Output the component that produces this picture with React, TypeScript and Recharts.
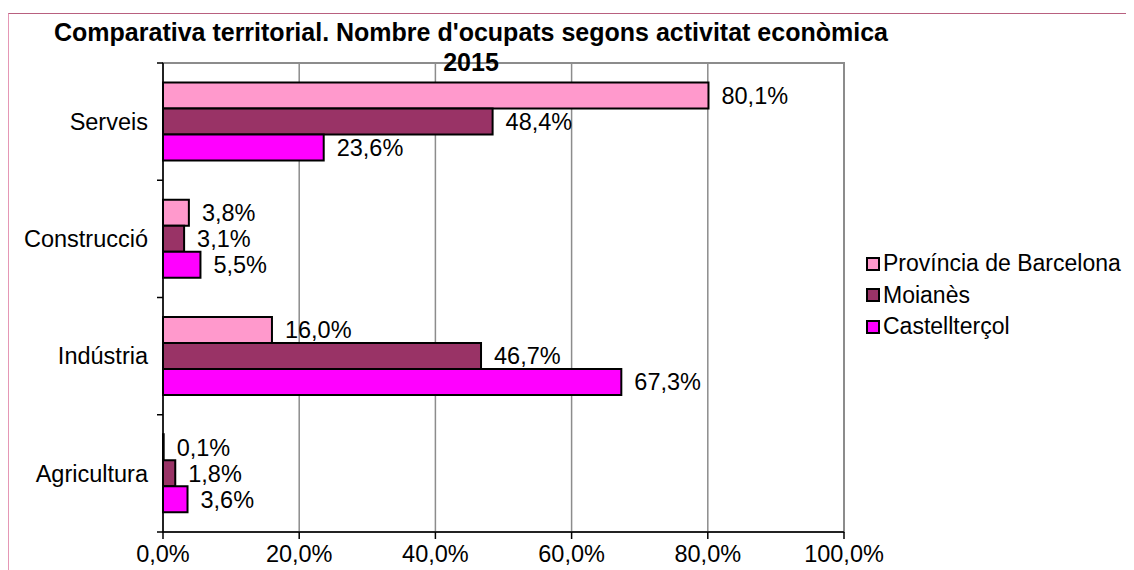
import { Bar, BarChart, CartesianGrid, LabelList, ReferenceArea, XAxis, YAxis } from "recharts";

const categories = ["Serveis", "Construcció", "Indústria", "Agricultura"];
const provincia = [80.1, 3.8, 16.0, 0.1];
const moianes = [48.4, 3.1, 46.7, 1.8];
const castellterçol = [23.6, 5.5, 67.3, 3.6];
const xTicks = [0, 20, 40, 60, 80, 100];

const SERIES = [
  { key: "provincia", name: "Província de Barcelona", color: "#FF99CC" },
  { key: "moianes", name: "Moianès", color: "#993366" },
  { key: "castellterçol", name: "Castellterçol", color: "#FF00FF" },
];

const data = categories.map((cat, i) => ({
  cat,
  provincia: provincia[i],
  moianes: moianes[i],
  castellterçol: castellterçol[i],
}));

const FONT = "'Liberation Sans', Arial, sans-serif";
const FS = 23.5;
const W = 1126;
const H = 562;
const MARGIN = { top: 55, right: 290, left: 0, bottom: 0 };
const Y_WIDTH = 155;
const X_HEIGHT = 38;
const BAND = (H - MARGIN.top - X_HEIGHT) / categories.length;

const pct = (v: number) => `${v.toFixed(1).replace(".", ",")}%`;

const CategoryTick = (props: any) => {
  const { y, payload, index } = props;
  const ax = Y_WIDTH;
  return (
    <g>
      <line x1={ax - 6} x2={ax} y1={y - BAND / 2} y2={y - BAND / 2} stroke="#000" strokeWidth={1.5} />
      {index === categories.length - 1 && (
        <line x1={ax - 6} x2={ax} y1={y + BAND / 2} y2={y + BAND / 2} stroke="#000" strokeWidth={1.5} />
      )}
      <text x={ax - 15} y={y} dy="0.35em" textAnchor="end" fontSize={FS} fill="#000" fontFamily={FONT}>
        {payload.value}
      </text>
    </g>
  );
};

const LegendBox = () => (
  <div
    style={{
      position: "absolute",
      left: 858,
      top: 240,
      width: 280,
      fontFamily: FONT,
      fontSize: 23,
      lineHeight: "31.5px",
      color: "#000",
    }}
  >
    {SERIES.map((s) => (
      <div key={s.key} style={{ display: "flex", alignItems: "center", whiteSpace: "nowrap" }}>
        <span
          style={{
            display: "inline-block",
            width: 10,
            height: 10,
            background: s.color,
            border: "2px solid #000",
            marginRight: 3,
          }}
        />
        {s.name}
      </div>
    ))}
  </div>
);

export default function App() {
  return (
    <div style={{ position: "relative", width: W, height: H, overflow: "hidden", background: "#fff" }}>
      <div
        style={{
          position: "absolute",
          left: 0,
          top: 5,
          width: W + 50,
          height: H + 50,
          borderTop: "1.5px solid #b8607f",
          borderLeft: "1.5px solid #e597b5",
          boxSizing: "border-box",
        }}
      />
      <BarChart width={W} height={H} data={data} layout="vertical" margin={MARGIN} barCategoryGap="16.6%" barGap={0}>
        <CartesianGrid horizontal={false} stroke="#8c8c8c" strokeWidth={1.5} />
        <ReferenceArea x1={0} x2={100} fill="none" stroke="#8c8c8c" strokeWidth={2} ifOverflow="visible" />
        <XAxis
          type="number"
          domain={[0, 100]}
          ticks={xTicks}
          tickFormatter={pct}
          height={X_HEIGHT}
          stroke="#000"
          strokeWidth={1.5}
          tickSize={7}
          tickMargin={6}
          tick={{ fontSize: FS, fill: "#000", fontFamily: FONT }}
          interval={0}
        />
        <YAxis
          type="category"
          dataKey="cat"
          width={Y_WIDTH}
          stroke="#000"
          strokeWidth={1.5}
          tickLine={false}
          tick={<CategoryTick />}
          interval={0}
        />
        {SERIES.map((s) => (
          <Bar key={s.key} dataKey={s.key} name={s.name} fill={s.color} stroke="#000" strokeWidth={2} isAnimationActive={false}>
            <LabelList
              dataKey={s.key}
              position="right"
              offset={13}
              formatter={(v: any) => pct(Number(v))}
              style={{ fontSize: FS, fill: "#000", fontFamily: FONT }}
            />
          </Bar>
        ))}
      </BarChart>
      <LegendBox />
      <div
        style={{
          position: "absolute",
          left: 0,
          width: 926,
          top: 9,
          textAlign: "center",
          fontFamily: FONT,
          fontWeight: "bold",
          fontSize: 25,
          lineHeight: "30px",
          color: "#000",
        }}
      >
        Comparativa territorial. Nombre d'ocupats segons activitat econòmica
        <br />
        2015
      </div>
    </div>
  );
}
